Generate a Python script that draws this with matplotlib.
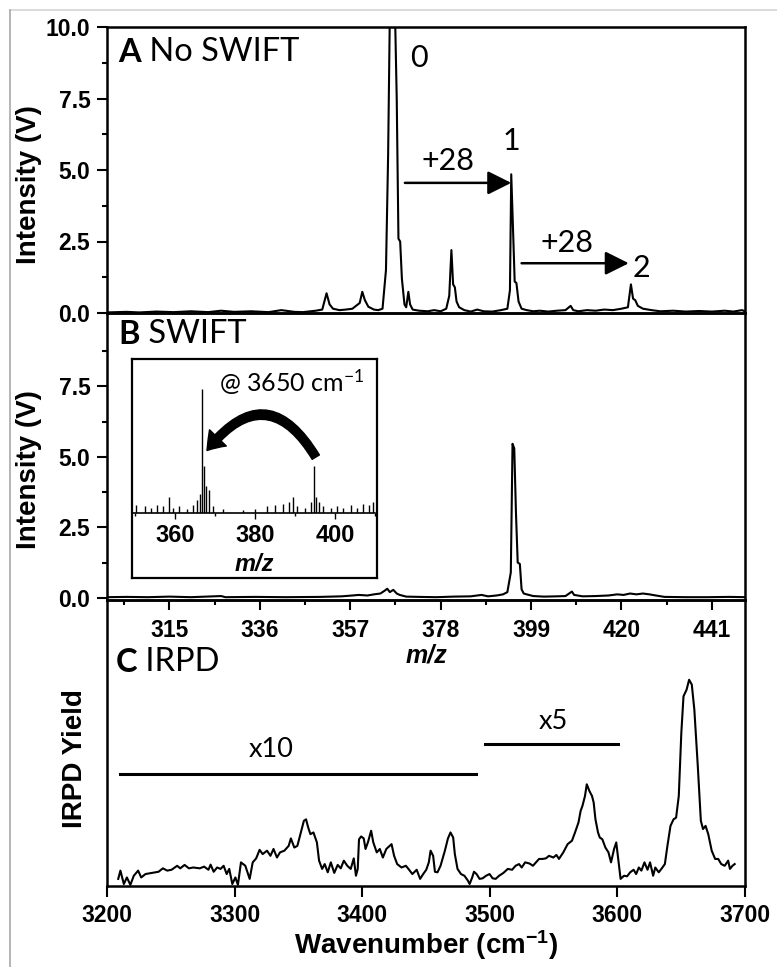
import matplotlib
matplotlib.use("Agg")
import matplotlib.pyplot as plt
from matplotlib.ticker import FixedLocator, MultipleLocator, FormatStrFormatter, NullFormatter
from matplotlib.patches import FancyArrowPatch
from matplotlib.lines import Line2D

plt.rcParams['font.family'] = ['Liberation Sans', 'DejaVu Sans']
plt.rcParams['mathtext.default'] = 'regular'

# ---------------- data ----------------
# Panel A: mass spectrum, no SWIFT (m/z, intensity V)
a_mz = [300.5, 305, 308, 312, 316, 320, 324, 327, 330, 334, 338, 341, 344, 346, 349,
        350.5, 351.5, 352.2, 353, 354.5, 356, 357.5, 359.2, 359.8, 360.4, 361.2, 362.5,
        363.5, 364.5, 365.3, 365.8, 366.2, 366.6, 367.0, 367.4, 367.8, 368.2, 368.6,
        369.0, 369.6, 370.0, 370.5, 370.9, 371.5, 373, 375, 376.5, 378, 379.3, 380.0,
        380.5, 380.9, 381.3, 381.7, 382.3, 383.5, 385, 386.5, 388, 390, 392, 393.5,
        394.1, 394.4, 394.8, 395.2, 395.6, 396.1, 396.8, 398, 399.5, 401, 403, 405,
        407, 408.2, 408.8, 410, 412, 414, 416, 418, 420, 421.5, 422.2, 422.7, 423.2,
        423.8, 425, 427, 429, 432, 435, 438, 441, 444, 446, 448, 449]
a_int = [0.02, 0.04, 0.02, 0.05, 0.03, 0.06, 0.03, 0.08, 0.04, 0.06, 0.03, 0.10, 0.04, 0.03, 0.08,
         0.12, 0.69, 0.30, 0.15, 0.10, 0.12, 0.15, 0.35, 0.74, 0.45, 0.22, 0.12,
         0.10, 0.15, 1.5, 5.5, 10.5, 12.0, 12.0, 10.5, 7.5, 2.6, 2.5,
         1.2, 0.30, 0.20, 0.74, 0.30, 0.12, 0.08, 0.06, 0.10, 0.06, 0.15, 0.60,
         2.2, 1.0, 0.9, 0.4, 0.2, 0.10, 0.05, 0.12, 0.06, 0.05, 0.10, 0.15,
         0.8, 4.85, 3.0, 1.1, 1.05, 0.40, 0.15, 0.10, 0.06, 0.08, 0.05, 0.08,
         0.10, 0.25, 0.10, 0.06, 0.10, 0.08, 0.12, 0.10, 0.15, 0.20, 1.0, 0.5, 0.45,
         0.25, 0.15, 0.10, 0.06, 0.08, 0.05, 0.07, 0.05, 0.08, 0.05, 0.10, 0.04]

# Panel B: mass spectrum with SWIFT
b_mz = [300.5, 305, 310, 315, 320, 327, 328, 335, 342, 350, 355, 357.5, 359, 361, 362.5,
        364, 365, 365.6, 366.2, 367, 367.8, 368.5, 370, 373, 377, 381, 385, 387.5, 389,
        391, 392.5, 393.5, 394.3, 394.7, 395.1, 395.5, 395.9, 396.4, 396.8, 397.3, 398,
        399.5, 402, 405, 407, 408.5, 409, 411, 414, 417, 419, 420.5, 422, 423.5, 425,
        426.5, 428, 430, 435, 440, 445, 449]
b_int = [0.02, 0.03, 0.02, 0.04, 0.02, 0.06, 0.02, 0.03, 0.02, 0.03, 0.05, 0.08, 0.10, 0.08, 0.12,
         0.15, 0.25, 0.32, 0.20, 0.28, 0.15, 0.10, 0.04, 0.03, 0.02, 0.04, 0.05, 0.10, 0.05,
         0.08, 0.12, 0.20, 0.9, 5.46, 5.3, 3.0, 1.25, 1.2, 0.30, 0.15, 0.12,
         0.06, 0.04, 0.05, 0.06, 0.22, 0.10, 0.05, 0.06, 0.08, 0.12, 0.10, 0.15, 0.12, 0.15,
         0.12, 0.08, 0.03, 0.02, 0.02, 0.03, 0.02]

# Inset: SWIFT spectrum at 3650 cm-1 (stick peaks, relative intensity)
inset_mz = [350.2, 352.5, 354.0, 355.5, 357.0, 358.5, 359.5, 361.0, 363.0, 364.5, 365.5,
            366.2, 366.8, 367.3, 367.8, 368.5, 369.5, 372.0, 377.0, 380.0, 383.0, 385.0,
            387.0, 388.5, 389.5, 390.5, 392.5, 394.0, 394.8, 395.3, 396.0, 397.0, 399.0,
            400.5, 402.0, 404.0, 405.5, 407.0, 408.5, 409.5]
inset_int = [0.06, 0.05, 0.04, 0.06, 0.05, 0.12, 0.04, 0.05, 0.03, 0.06, 0.10,
             0.14, 0.93, 0.35, 0.20, 0.17, 0.05, 0.03, 0.02, 0.03, 0.05, 0.06,
             0.07, 0.08, 0.12, 0.05, 0.04, 0.08, 0.35, 0.12, 0.08, 0.05, 0.04,
             0.05, 0.04, 0.06, 0.04, 0.07, 0.06, 0.08]

# Panel C: IRPD spectrum (wavenumber, yield a.u.)
c_wn = [3208.8, 3210.5, 3213.2, 3215.6, 3218.3, 3221.0, 3224.4, 3226.8, 3230.2, 3235.3,
        3240.4, 3243.8, 3247.2, 3250.6, 3255.0, 3257.4, 3260.8, 3264.2, 3267.6, 3272.7,
        3276.1, 3279.5, 3281.2, 3283.6, 3286.3, 3289.0, 3291.4, 3293.8, 3295.8, 3298.2,
        3300.6, 3302.6, 3305.0, 3308.4, 3311.8, 3314.2, 3316.9, 3319.6, 3322.0, 3325.4,
        3328.1, 3330.5, 3333.2, 3335.6, 3339.0, 3342.4, 3344.1, 3346.8, 3349.2, 3351.9,
        3354.3, 3356.0, 3357.7, 3359.4, 3361.8, 3364.5, 3366.2, 3368.6, 3370.6, 3373.0,
        3375.4, 3378.1, 3380.8, 3383.2, 3385.6, 3388.3, 3391.0, 3393.4, 3395.1, 3396.5,
        3397.5, 3399.2, 3401.2, 3402.6, 3404.6, 3407.0, 3408.7, 3411.4, 3413.8, 3416.2,
        3418.9, 3421.6, 3423.0, 3425.0, 3427.4, 3430.8, 3434.2, 3435.9, 3439.3, 3442.7,
        3445.4, 3447.8, 3450.2, 3452.2, 3453.6, 3455.6, 3457.0, 3459.0, 3461.4, 3464.8,
        3467.2, 3469.2, 3471.3, 3472.6, 3474.7, 3477.4, 3480.1, 3482.8, 3484.2, 3486.2,
        3487.6, 3489.6, 3492.0, 3494.4, 3497.1, 3499.8, 3502.2, 3504.6, 3507.3, 3510.7,
        3514.1, 3517.5, 3520.2, 3522.9, 3525.0, 3527.7, 3531.1, 3533.8, 3536.2, 3538.6,
        3541.3, 3544.0, 3546.4, 3549.8, 3552.2, 3554.2, 3557.6, 3561.0, 3564.4, 3566.8,
        3569.5, 3571.2, 3572.6, 3574.6, 3576.0, 3578.0, 3580.1, 3581.4, 3582.8, 3584.8,
        3586.2, 3588.2, 3590.6, 3593.0, 3595.0, 3597.4, 3599.1, 3601.1, 3602.5, 3605.2,
        3607.6, 3610.0, 3612.7, 3614.7, 3616.8, 3618.8, 3621.2, 3623.6, 3625.6, 3628.0,
        3629.7, 3632.4, 3634.8, 3637.2, 3639.2, 3641.6, 3644.0, 3646.0, 3648.1, 3650.1,
        3651.8, 3654.2, 3656.2, 3658.3, 3660.3, 3663.0, 3665.4, 3667.1, 3669.1, 3671.2,
        3673.9, 3676.6, 3679.0, 3681.4, 3684.1, 3686.8, 3688.2, 3690.2, 3691.9]
c_yield = [2.1, 5.0, 0.3, 2.6, 0.0, 3.2, 5.0, 2.6, 3.8, 4.2,
           4.6, 5.8, 5.0, 5.3, 6.7, 5.8, 7.0, 5.8, 6.1, 5.8,
           6.4, 5.3, 7.1, 4.6, 6.1, 5.6, 6.7, 3.8, 5.6, 0.3,
           2.6, 0.0, 7.9, 6.7, 2.1, 7.9, 9.3, 12.3, 10.8, 12.0,
           10.2, 12.6, 9.6, 11.4, 12.0, 13.7, 16.3, 13.1, 13.7, 18.4,
           22.5, 23.0, 20.1, 17.8, 18.4, 14.9, 8.5, 5.6, 7.3, 4.4,
           7.9, 4.2, 7.0, 5.8, 8.5, 6.7, 5.6, 9.3, 3.2, 5.6,
           16.0, 17.0, 16.3, 12.6, 15.1, 19.0, 14.9, 11.4, 12.6, 9.6,
           12.6, 13.7, 14.3, 10.2, 7.3, 6.1, 6.7, 5.8, 3.8, 5.3,
           2.1, 3.8, 5.3, 7.9, 12.0, 10.2, 4.6, 4.4, 6.7, 12.0,
           16.3, 18.4, 16.6, 10.8, 5.6, 3.8, 3.2, 1.5, 0.3, 2.6,
           4.6, 3.8, 2.1, 2.3, 3.2, 3.8, 2.3, 2.1, 3.2, 4.2,
           5.6, 5.3, 6.7, 7.3, 6.1, 7.9, 7.5, 6.7, 7.9, 9.1,
           9.1, 9.3, 10.2, 9.6, 10.5, 9.1, 11.4, 14.3, 15.5, 18.4,
           21.9, 26.0, 27.7, 31.2, 35.3, 33.0, 31.2, 28.9, 23.0, 18.4,
           16.6, 16.0, 13.1, 11.4, 7.9, 12.6, 14.9, 7.3, 2.1, 3.2,
           3.0, 4.4, 5.3, 3.8, 6.1, 5.0, 7.9, 5.3, 7.9, 3.2,
           6.1, 4.4, 5.8, 7.3, 13.7, 20.7, 23.0, 23.6, 31.2, 53.4,
           66.2, 68.5, 72.0, 70.3, 61.5, 41.7, 22.5, 19.6, 20.7, 17.8,
           12.0, 9.1, 9.1, 7.3, 6.7, 8.5, 5.6, 6.7, 7.3]

mz_ticks = [315, 336, 357, 378, 399, 420, 441]
inset_ticks = [360, 380, 400]
wn_ticks = [3200, 3300, 3400, 3500, 3600, 3700]
int_ticks_a = [0, 2.5, 5.0, 7.5, 10.0]
int_ticks_b = [0, 2.5, 5.0, 7.5]
peak_mz = [367.0, 394.4, 422.2]        # labelled peaks 0, 1, 2
x10_range = [3210.5, 3489.0]
x5_range = [3496.4, 3600.1]

# ---------------- figure ----------------
W, H = 777, 967
fig = plt.figure(figsize=(W / 100, H / 100), dpi=100)

def rect(x0, y0, x1, y1):
    return [x0 / W, 1 - y1 / H, (x1 - x0) / W, (y1 - y0) / H]

ax_a = fig.add_axes(rect(107, 27, 745, 313))
ax_b = fig.add_axes(rect(107, 313, 745, 600))
ax_c = fig.add_axes(rect(107, 600, 745, 886))

ANN = ['Lato', 'DejaVu Sans']
tick_fs = 16.5
lab_fs = 20
spw = 1.8

for ax in (ax_a, ax_b, ax_c):
    for s in ax.spines.values():
        s.set_linewidth(spw)
    ax.patch.set_visible(False)

xlim_mz = (300.5, 448.7)

# Panel A
ax_a.plot(a_mz, a_int, color='k', lw=1.5)
ax_a.set_xlim(*xlim_mz)
ax_a.set_ylim(0, 10)
ax_a.set_xticks([])
ax_a.yaxis.set_major_locator(FixedLocator(int_ticks_a))
ax_a.yaxis.set_minor_locator(MultipleLocator(1.25))
ax_a.yaxis.set_major_formatter(FormatStrFormatter('%.1f'))

# Panel B
ax_b.plot(b_mz, b_int, color='k', lw=1.5)
ax_b.set_xlim(*xlim_mz)
ax_b.set_ylim(-0.08, 10.1)
ax_b.yaxis.set_major_locator(FixedLocator(int_ticks_b))
ax_b.yaxis.set_minor_locator(FixedLocator([1.25, 3.75, 6.25, 8.75]))
ax_b.yaxis.set_major_formatter(FormatStrFormatter('%.1f'))
ax_b.xaxis.set_major_locator(FixedLocator(mz_ticks))
ax_b.xaxis.set_minor_locator(MultipleLocator(10.5))
ax_b.xaxis.set_minor_formatter(NullFormatter())

for ax in (ax_a, ax_b):
    ax.tick_params(axis='y', which='major', direction='out', length=7, width=1.5,
                   labelsize=tick_fs, pad=5)
    ax.tick_params(axis='y', which='minor', direction='out', length=3.8, width=1.5)
    ax.set_ylabel('Intensity (V)', fontsize=lab_fs, fontweight='bold')
    for lab in ax.get_yticklabels():
        lab.set_fontweight('bold')
ax_a.yaxis.set_label_coords(-0.102, 0.45)
ax_b.yaxis.set_label_coords(-0.102, 0.453)

ax_b.tick_params(axis='x', which='major', direction='out', length=7, width=1.5,
                 labelsize=tick_fs, pad=7)
ax_b.tick_params(axis='x', which='minor', direction='out', length=3.8, width=1.5)
for lab in ax_b.get_xticklabels():
    lab.set_fontweight('bold')
ax_b.text(0.5, -0.195, 'm/z', transform=ax_b.transAxes, ha='center', va='center',
          fontsize=18, fontweight='bold', fontstyle='italic')

# Panel C
ax_c.plot(c_wn, c_yield, color='k', lw=1.5)
ax_c.set_xlim(3200, 3700)
ax_c.set_ylim(-0.4, 100)
ax_c.set_yticks([])
ax_c.xaxis.set_major_locator(FixedLocator(wn_ticks))
ax_c.tick_params(axis='x', which='major', direction='out', length=8, width=1.5,
                 labelsize=tick_fs, pad=5)
for lab in ax_c.get_xticklabels():
    lab.set_fontweight('bold')
ax_c.set_xlabel('Wavenumber (cm$^{-1}$)', fontsize=lab_fs, fontweight='bold', labelpad=1)
ax_c.set_ylabel('IRPD Yield', fontsize=lab_fs, fontweight='bold')
ax_c.yaxis.set_label_coords(-0.030, 0.444)

ax_c.plot(x10_range, [39.0, 39.0], color='k', lw=2.2)
ax_c.plot(x5_range, [49.3, 49.3], color='k', lw=2.2)
ax_c.text(3328.8, 47.5, 'x10', family=ANN, fontsize=19.5, ha='center', va='center')
ax_c.text(3549.8, 57.4, 'x5', family=ANN, fontsize=19.5, ha='center', va='center')

# Panel titles (bold letter + regular text)
def panel_title(ax, x, y, letter, rest):
    t = ax.text(x, y, letter, transform=ax.transAxes, family=ANN, fontsize=23.5,
                fontweight='bold', ha='left', va='center')
    ax.annotate(' ' + rest, xy=(1, 0), xycoords=t, family=ANN, fontsize=23.5,
                ha='left', va='bottom')

panel_title(ax_a, 0.018, 0.91, 'A', 'No SWIFT')
panel_title(ax_b, 0.018, 0.925, 'B', 'SWIFT')
panel_title(ax_c, 0.013, 0.78, 'C', 'IRPD')

# Peak labels and +28 arrows in A
ax_a.text(peak_mz[0] + 6.0, 8.9, '0', family=ANN, fontsize=22, ha='center', va='center')
ax_a.text(peak_mz[1], 6.0, '1', family=ANN, fontsize=22, ha='center', va='center')
ax_a.text(peak_mz[2] + 2.5, 1.56, '2', family=ANN, fontsize=22, ha='center', va='center')
ax_a.text(379.8, 5.3, '+28', family=ANN, fontsize=22, ha='center', va='center')
ax_a.text(407.3, 2.45, '+28', family=ANN, fontsize=22, ha='center', va='center')
arrow_kw = dict(arrowstyle='-|>,head_length=0.4,head_width=0.2', color='k', lw=1.8,
                mutation_scale=36, shrinkA=0, shrinkB=0)
ax_a.annotate('', xy=(peak_mz[1], 4.55), xytext=(369.7, 4.55), arrowprops=arrow_kw)
ax_a.annotate('', xy=(421.7, 1.74), xytext=(396.8, 1.74), arrowprops=arrow_kw)

# Inset in B
ax_frame = fig.add_axes(rect(132, 359, 377, 578))
ax_frame.set_xticks([])
ax_frame.set_yticks([])
for s in ax_frame.spines.values():
    s.set_linewidth(1.6)
ax_frame.set_facecolor('white')

ax_in = fig.add_axes(rect(133, 380, 375, 513))
ax_in.patch.set_visible(False)
for side in ('left', 'right', 'top'):
    ax_in.spines[side].set_visible(False)
ax_in.spines['bottom'].set_linewidth(1.2)
ax_in.vlines(inset_mz, 0, inset_int, color='k', lw=1.0)
ax_in.set_xlim(349.5, 410)
ax_in.set_ylim(0, 1)
ax_in.set_yticks([])
ax_in.xaxis.set_major_locator(FixedLocator(inset_ticks))
ax_in.xaxis.set_minor_locator(MultipleLocator(10))
ax_in.tick_params(axis='x', which='major', direction='out', length=4, width=1.0,
                  labelsize=17, pad=4)
ax_in.tick_params(axis='x', which='minor', direction='out', length=2, width=1.0)
for lab in ax_in.get_xticklabels():
    lab.set_fontweight('bold')
ax_in.text(0.5, -0.39, 'm/z', transform=ax_in.transAxes, ha='center', va='center',
           fontsize=17, fontweight='bold', fontstyle='italic')
ax_in.text(0.955, 0.98, '@ 3650 cm$^{-1}$', transform=ax_in.transAxes, family=ANN,
           fontsize=18, ha='right', va='center')
curved = FancyArrowPatch(posA=(395.2, 0.42), posB=(368.0, 0.47),
                         connectionstyle='arc3,rad=0.72',
                         arrowstyle='simple,head_length=0.75,head_width=1.05,tail_width=0.38',
                         mutation_scale=16, color='k', transform=ax_in.transData,
                         shrinkA=0, shrinkB=0)
ax_in.add_patch(curved)

# light border of the original screenshot
fig.add_artist(Line2D([9.5 / W, 1], [1 - 10 / H, 1 - 10 / H], color='#d4d4d4', lw=1.2))
fig.add_artist(Line2D([9.5 / W, 9.5 / W], [0, 1 - 10 / H], color='#a8a8a8', lw=1.2))

fig.savefig('out.png', dpi=100)
